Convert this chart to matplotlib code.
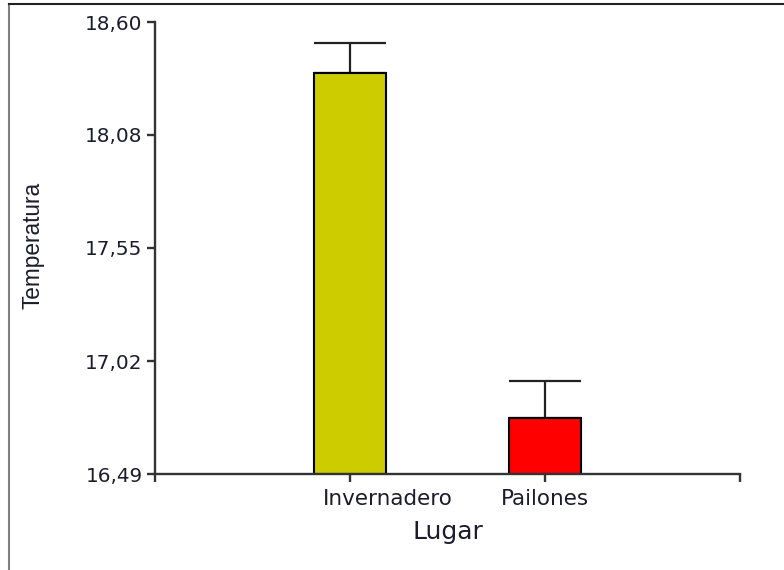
import numpy as np
import matplotlib.pyplot as plt
from matplotlib.lines import Line2D
from matplotlib.transforms import ScaledTranslation

# Mean temperature per site, with the upper error (SEM)
lugares = ["Invernadero", "Pailones"]
temperatura = [18.363, 16.753]
error = [0.14, 0.17]
colores = ["#CCCC00", "#FF0000"]

y_min, y_max = 16.49, 18.60
y_tick_labels = ["16,49", "17,02", "17,55", "18,08", "18,60"]

fig = plt.figure(figsize=(7.84, 5.70), dpi=100)
ax = fig.add_axes([155 / 784, 96 / 570, 585 / 784, 452 / 570])

x = np.arange(1, len(lugares) + 1)
ancho = 0.37

ax.bar(x, np.array(temperatura) - y_min, bottom=y_min, width=ancho,
       color=colores, edgecolor="black", linewidth=1.5, zorder=2)
ax.errorbar(x, temperatura, yerr=[np.zeros(len(error)), error], fmt="none",
            ecolor="#222222", elinewidth=1.6, capsize=26, capthick=1.6,
            zorder=1)

ax.set_xlim(0, 3)
ax.set_ylim(y_min, y_max)
ax.set_yticks(np.linspace(y_min, y_max, len(y_tick_labels)))
ax.set_yticklabels(y_tick_labels)
ax.set_xticks([0, 1, 2, 3])
ax.set_xticklabels([""] + lugares + [""])

for side in ("top", "right"):
    ax.spines[side].set_visible(False)
for side in ("left", "bottom"):
    ax.spines[side].set_color("#333333")
    ax.spines[side].set_linewidth(1.7)

ax.tick_params(axis="both", direction="out", length=6, width=1.7,
               color="#333333", labelcolor="#1c1c2c")
ax.tick_params(axis="y", labelsize=14.4, pad=3)
ax.tick_params(axis="x", labelsize=15.5, pad=5)

# first category label sits to the right of its tick
lbl = ax.get_xticklabels()[1]
lbl.set_horizontalalignment("left")
lbl.set_transform(lbl.get_transform()
                  + ScaledTranslation(-0.27, 0, fig.dpi_scale_trans))

ax.set_xlabel("Lugar", fontsize=18, color="#1c1c2c", labelpad=8)
ax.set_ylabel("Temperatura", fontsize=16.3, color="#1c1c2c",
              family=["Liberation Sans", "DejaVu Sans"])
ax.yaxis.set_label_coords(-0.189, 0.505)

# outer frame lines on the left and top
fig.add_artist(Line2D([9 / 784, 9 / 784], [0, 1 - 4 / 570],
                      transform=fig.transFigure, color="#808080", lw=1.5))
fig.add_artist(Line2D([9 / 784, 1], [1 - 4 / 570, 1 - 4 / 570],
                      transform=fig.transFigure, color="#222222", lw=1.5))

fig.savefig("out.png", dpi=100)
